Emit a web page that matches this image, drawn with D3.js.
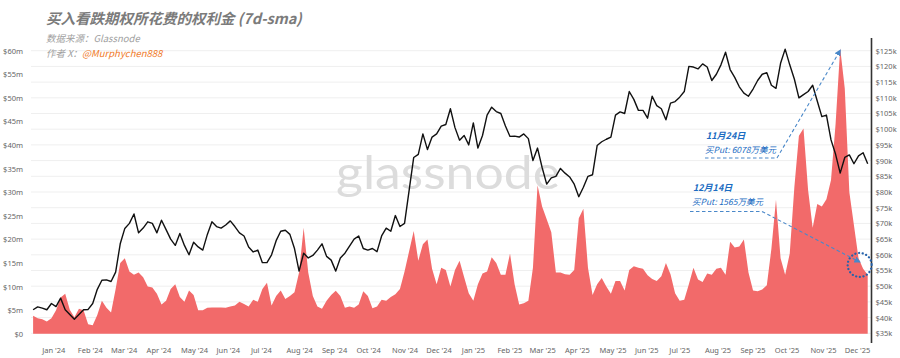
<!DOCTYPE html>
<html><head><meta charset="utf-8">
<script src="https://cdn.jsdelivr.net/npm/d3@7"></script>
<style>
html,body{margin:0;padding:0;background:#fff;}
svg{display:block;font-family:"Noto Sans","Noto Sans CJK SC",sans-serif;}
</style></head>
<body><svg id="chart" width="900" height="358"></svg>
<script>
// ---- data ----
const startDate = "2023-12-24";   // first sample
const stepDays = 4;               // sample spacing in days

// Put premium spent, 7d-SMA, $ millions
const putPremium = [3.8,3.3,3.1,2.6,3.3,5.0,7.7,8.5,5.1,3.5,5.3,5.0,2.0,1.8,4.0,7.0,5.5,4.5,9.5,15.0,
16.0,13.2,12.5,13.0,12.0,10.0,9.8,8.5,6.2,7.0,9.5,10.5,7.8,6.8,9.2,8.2,5.0,5.0,5.5,5.6,
5.6,5.6,5.5,5.8,6.0,6.8,6.3,5.8,7.2,6.8,9.5,10.8,6.0,8.0,9.2,7.4,8.0,8.8,13.0,22.5,
13.0,8.0,5.8,5.3,7.0,8.2,9.1,8.0,5.5,5.8,5.5,6.2,9.0,8.0,5.4,5.8,7.2,7.0,7.8,8.4,
9.5,13.2,17.5,21.8,15.5,19.0,20.0,13.8,10.5,14.0,13.5,10.0,13.5,15.5,12.0,8.6,7.0,10.5,12.8,13.2,
16.2,15.0,12.5,12.5,17.0,10.5,6.2,6.5,7.0,14.0,31.5,27.0,24.3,21.5,13.0,13.0,12.6,12.5,13.5,24.5,
26.5,14.0,8.2,10.5,11.8,10.0,8.5,11.2,11.2,9.2,13.5,14.3,14.0,13.8,12.4,11.6,11.2,12.2,15.0,12.6,
8.6,7.0,7.2,10.5,14.0,11.5,11.0,12.8,12.5,13.8,14.0,12.5,19.5,18.3,18.5,20.0,13.0,9.2,9.0,9.4,
10.3,18.0,28.4,16.0,12.5,17.0,31.0,42.0,43.5,30.5,22.5,27.5,27.0,28.5,32.6,44.5,60.5,52.0,30.0,23.0,
16.0,13.8,12.5];

// BTC price, $ thousands
const btcPrice = [42.5,43.4,43.0,42.5,44.5,43.5,46.2,42.5,41.0,39.5,41.0,42.5,42.6,44.5,49.0,51.9,52.0,51.5,54.5,63.5,
68.4,70.0,73.0,67.0,68.5,70.5,70.0,67.0,71.0,68.0,65.0,63.0,66.8,63.0,60.0,64.0,62.5,61.5,66.5,70.5,
69.0,68.5,69.5,70.8,69.0,67.0,66.0,62.5,60.9,61.5,57.5,57.5,60.0,64.5,67.5,67.8,66.5,62.0,54.8,60.5,
59.0,59.8,61.5,63.5,59.5,58.3,54.8,59.0,60.5,62.8,65.0,66.0,62.0,61.5,62.0,61.0,66.0,68.5,67.5,72.5,
69.0,70.0,80.5,91.0,92.0,98.5,93.5,97.5,98.5,101.0,101.5,106.5,100.5,96.5,98.0,95.0,102.0,94.0,98.0,104.5,
107.0,105.6,105.0,101.0,97.7,97.8,97.5,98.5,97.0,90.0,94.0,87.8,82.5,84.5,85.0,87.5,86.0,84.8,82.5,78.5,
81.5,85.0,85.5,94.8,96.0,96.8,97.5,104.5,105.5,105.0,112.0,109.5,106.0,106.0,103.5,110.5,107.5,106.5,103.0,108.3,
108.8,110.2,112.0,120.0,119.8,119.2,120.8,119.8,115.5,117.5,120.5,124.5,119.0,116.5,113.5,111.5,110.5,112.8,115.5,117.5,
118.0,114.0,113.0,121.0,125.5,120.5,116.0,110.0,111.0,112.0,114.0,109.0,104.0,104.5,96.6,92.0,86.0,91.0,91.8,89.0,
91.5,92.5,89.0];

const leftTicks = [0,5,10,15,20,25,30,35,40,45,50,55,60];          // $m
const rightTicks = [35,40,45,50,55,60,65,70,75,80,85,90,95,100,105,110,115,120,125]; // $k

// annotations
const annotLabels = ["11月24日","12月14日"];
const annotTexts = ["买Put: 6078万美元","买Put: 1565万美元"];
const annotDates = ["2025-11-24","2025-12-14"];
const annotValues = [60.78,15.65];

// ---- chart ----
const svg = d3.select("#chart");
const parse = d3.utcParse("%Y-%m-%d");
const t0 = parse(startDate);
const dates = putPremium.map((_, i) => d3.utcDay.offset(t0, i * stepDays));
const data = dates.map((d, i) => ({date: d, put: putPremium[i], btc: btcPrice[i]}));

const x = d3.scaleUtc().domain([t0, dates[dates.length - 1]]).range([33.1, 867.7]);
const yL = d3.scaleLinear().domain([0, 60]).range([333.8, 50.7]);
const yR = d3.scaleLinear().domain([35, 125]).range([333.3, 50.7]);
const plotL = 31, plotR = 871.5;

// gridlines
svg.append("g").selectAll("line").data(rightTicks).join("line")
  .attr("x1", plotL).attr("x2", plotR)
  .attr("y1", d => yR(d)).attr("y2", d => yR(d))
  .attr("stroke", "#efefef").attr("stroke-width", 1);

// watermark
svg.append("text").attr("x", 336).attr("y", 189)
  .attr("font-family", "Lato, 'Noto Sans', sans-serif").attr("font-size", 46)
  .attr("fill", "#dcdcdc").attr("textLength", 224).attr("lengthAdjust", "spacingAndGlyphs")
  .text("glassnode");

// area
const area = d3.area().x(d => x(d.date)).y0(yL(0)).y1(d => yL(d.put)).curve(d3.curveLinear);
svg.append("path").datum(data).attr("d", area).attr("fill", "#f26a6a");

// BTC line
const line = d3.line().x(d => x(d.date)).y(d => yR(d.btc)).curve(d3.curveLinear);
svg.append("path").datum(data).attr("d", line).attr("fill", "none")
  .attr("stroke", "#111").attr("stroke-width", 1.4).attr("stroke-linejoin", "round");

// left axis
const gL = svg.append("g").attr("transform", `translate(23,0)`)
  .call(d3.axisLeft(yL).tickValues(leftTicks).tickSize(0).tickPadding(0)
    .tickFormat(d => d === 0 ? "$0" : `$${d}m`));
gL.select(".domain").remove();
gL.selectAll("text").attr("font-size", 7.5).attr("fill", "#666").attr("font-family", "'Noto Sans', sans-serif");

// right axis
const gR = svg.append("g").attr("transform", `translate(${plotR},0)`)
  .call(d3.axisRight(yR).tickValues(rightTicks).tickSize(0).tickPadding(4)
    .tickFormat(d => `$${d}k`));
gR.select(".domain").remove();
gR.selectAll("text").attr("font-size", 7.5).attr("fill", "#666").attr("font-family", "'Noto Sans', sans-serif");
svg.append("line").attr("x1", plotR).attr("x2", plotR).attr("y1", 38).attr("y2", 343)
  .attr("stroke", "#333").attr("stroke-width", 1.6);

// x axis
const months = d3.utcMonth.range(d3.utcMonth.ceil(t0), dates[dates.length - 1]);
const gX = svg.append("g").attr("transform", `translate(0,334)`)
  .call(d3.axisBottom(x).tickValues(months).tickSize(0).tickPadding(14)
    .tickFormat(d3.utcFormat("%b '%y")));
gX.select(".domain").remove();
gX.selectAll("text").attr("text-anchor", "start").attr("dx", -0.5)
  .attr("font-size", 7.5).attr("fill", "#666").attr("font-family", "'Noto Sans', sans-serif");

// titles
const cjk = "'Noto Sans CJK SC','Noto Sans',sans-serif";
svg.append("text").attr("x", 46).attr("y", 24).attr("font-family", cjk)
  .attr("font-size", 14.5).attr("font-weight", 700).attr("font-style", "italic")
  .attr("fill", "#7b7b7b").text("买入看跌期权所花费的权利金 (7d-sma)");
svg.append("text").attr("x", 46).attr("y", 41.5).attr("font-family", cjk)
  .attr("font-size", 9.5).attr("font-style", "italic").attr("fill", "#a0a0a0")
  .text("数据来源：Glassnode");
const au = svg.append("text").attr("x", 46).attr("y", 57).attr("font-family", cjk)
  .attr("font-size", 9.5).attr("font-style", "italic").attr("fill", "#a0a0a0");
au.append("tspan").text("作者 X：");
au.append("tspan").attr("fill", "#f07b2a").text("@Murphychen888");

// annotations
const blue = "#1b6cc2", dashBlue = "#4a88c9";
const defs = svg.append("defs");
defs.append("marker").attr("id", "arr").attr("viewBox", "0 0 10 10").attr("refX", 8).attr("refY", 5)
  .attr("markerWidth", 6).attr("markerHeight", 6).attr("orient", "auto")
  .append("path").attr("d", "M0,0L10,5L0,10z").attr("fill", dashBlue);

const peak = data.reduce((a, b) => (b.put > a.put ? b : a));
const targets = [
  {x: x(peak.date), y: yL(peak.put) + 2},
  {x: x(parse(annotDates[1])), y: yL(annotValues[1]) + 2}
];
const layout = [
  {tx: 706, ty: 139, lx0: 705, lx1: 777, ly: 158},
  {tx: 693, ty: 191, lx0: 690, lx1: 762, ly: 211.5}
];
annotLabels.forEach((lab, i) => {
  const L = layout[i], T = targets[i];
  svg.append("text").attr("x", L.tx).attr("y", L.ty).attr("font-family", cjk)
    .attr("font-size", 9).attr("font-weight", 700).attr("font-style", "italic")
    .attr("fill", blue).text(lab);
  svg.append("text").attr("x", L.tx - 1).attr("y", L.ty + 13.5).attr("font-family", cjk)
    .attr("font-size", 8.5).attr("font-style", "italic").attr("fill", blue).text(annotTexts[i]);
  svg.append("path")
    .attr("d", `M${L.lx0},${L.ly}L${L.lx1},${L.ly}L${T.x},${T.y}`)
    .attr("fill", "none").attr("stroke", dashBlue).attr("stroke-width", 1.1)
    .attr("stroke-dasharray", "3.5,2.5").attr("marker-end", "url(#arr)");
});
// dotted circle around the Dec 14 point
svg.append("circle").attr("cx", targets[1].x).attr("cy", targets[1].y + 3).attr("r", 12)
  .attr("fill", "none").attr("stroke", "#2462ab").attr("stroke-width", 2.2)
  .attr("stroke-dasharray", "0.1,3.6").attr("stroke-linecap", "round");
</script></body></html>
